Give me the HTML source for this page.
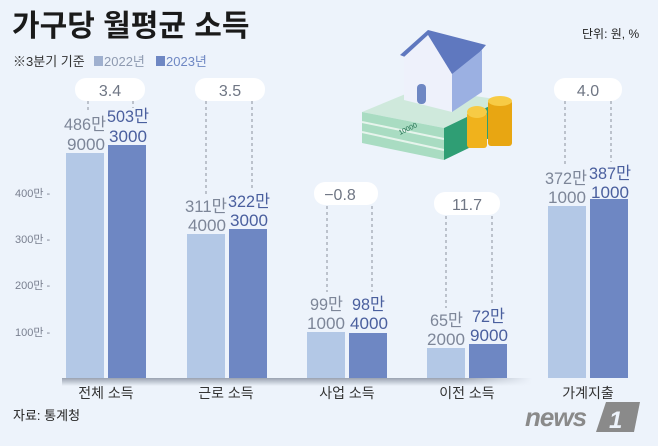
<!DOCTYPE html>
<html><head><meta charset="utf-8"><style>
body{margin:0;background:#edf3fb;}
svg{display:block;font-family:"Liberation Sans","Noto Sans CJK KR",sans-serif;}
</style></head><body>
<svg width="658" height="446" viewBox="0 0 658 446" xmlns="http://www.w3.org/2000/svg">
<defs>
<linearGradient id="sh" x1="0" y1="0" x2="0" y2="1"><stop offset="0" stop-color="#9aa2b0"/><stop offset="1" stop-color="#edf3fb"/></linearGradient>
<linearGradient id="shh" x1="0" y1="0" x2="1" y2="0"><stop offset="0" stop-color="#edf3fb" stop-opacity="0"/><stop offset="0.85" stop-color="#edf3fb" stop-opacity="0"/><stop offset="1" stop-color="#edf3fb" stop-opacity="1"/></linearGradient>
</defs>
<rect width="658" height="446" fill="#edf3fb"/>
<text x="12" y="36" font-size="30" font-weight="bold" fill="#1a1a1a">가구당 월평균 소득</text>
<text x="582" y="38" font-size="12" fill="#222">단위: 원, %</text>
<text x="13" y="66" font-size="13" fill="#333">※3분기 기준</text>
<rect x="94" y="56" width="9" height="10" fill="#9fb0cf"/><text x="104" y="66" font-size="13" fill="#8e9ab0">2022년</text>
<rect x="156" y="56" width="9" height="10" fill="#6e87c3"/><text x="166" y="66" font-size="13" fill="#6e87c3">2023년</text>

<!-- illustration -->
<g>
<polygon points="362,112 420,88 502,100 444,128" fill="#cfe9dc"/>
<polygon points="362,112 444,128 444,160 362,143" fill="#a9dcc2"/>
<line x1="362" y1="122" x2="444" y2="139" stroke="#e6f4ec" stroke-width="2"/>
<line x1="362" y1="132" x2="444" y2="150" stroke="#e6f4ec" stroke-width="2"/>
<polygon points="444,128 502,100 502,132 444,160" fill="#2f9e74"/>
<text x="400" y="135" font-size="7" fill="#1d6b4c" transform="rotate(-25 400 135)">10000</text>
<polygon points="400,55 428,30 486,45 457,78" fill="#5f78bf"/>
<polygon points="404,57 428,35 452,74 452,112 404,100" fill="#eef1fb"/>
<polygon points="452,74 482,50 482,92 452,112" fill="#9bb0e2"/>
<rect x="417" y="84" width="9" height="20" rx="4" fill="#6e87c3"/>
<rect x="467" y="112" width="20" height="36" rx="3" fill="#f0b21c"/>
<ellipse cx="477" cy="112" rx="10" ry="6" fill="#f7cb45"/>
<rect x="488" y="100" width="24" height="46" rx="3" fill="#e8a612"/>
<ellipse cx="500" cy="101" rx="12" ry="5" fill="#f7cb45"/>
</g>

<g font-size="11" fill="#7a8090">
<text x="15" y="197">400만 -</text>
<text x="15" y="243">300만 -</text>
<text x="15" y="289">200만 -</text>
<text x="15" y="336">100만 -</text>
</g>

<rect x="62" y="378" width="470" height="8" fill="url(#sh)"/>
<rect x="62" y="378" width="470" height="8" fill="url(#shh)"/>

<g fill="#b3c8e6">
<rect x="66" y="153" width="38" height="225"/>
<rect x="187" y="234" width="38" height="144"/>
<rect x="307" y="332" width="38" height="46"/>
<rect x="427" y="348" width="38" height="30"/>
<rect x="548" y="206" width="38" height="172"/>
</g>
<g fill="#6e87c3">
<rect x="108" y="145" width="38" height="233"/>
<rect x="229" y="229" width="38" height="149"/>
<rect x="349" y="333" width="38" height="45"/>
<rect x="469" y="344" width="38" height="34"/>
<rect x="590" y="199" width="38" height="179"/>
</g>

<g stroke="#8a909c" stroke-width="1" stroke-dasharray="3,3">
<line x1="88" y1="101" x2="88" y2="112"/><line x1="133" y1="101" x2="133" y2="108"/>
<line x1="206" y1="101" x2="206" y2="194"/><line x1="252" y1="101" x2="252" y2="190"/>
<line x1="327" y1="206" x2="327" y2="292"/><line x1="372" y1="206" x2="372" y2="292"/>
<line x1="446" y1="216" x2="446" y2="308"/><line x1="492" y1="216" x2="492" y2="304"/>
<line x1="565" y1="101" x2="565" y2="166"/><line x1="611" y1="101" x2="611" y2="162"/>
</g>

<g fill="#ffffff">
<rect x="75" y="78" width="70" height="23" rx="11"/>
<rect x="195" y="78" width="70" height="23" rx="11"/>
<rect x="314" y="182" width="64" height="23" rx="11"/>
<rect x="434" y="192" width="66" height="23" rx="11"/>
<rect x="554" y="78" width="68" height="23" rx="11"/>
</g>
<g font-size="16" fill="#6f7684" text-anchor="middle">
<text x="110" y="96">3.4</text>
<text x="230" y="96">3.5</text>
<text x="340" y="200">−0.8</text>
<text x="467" y="210">11.7</text>
<text x="588" y="96">4.0</text>
</g>

<g font-size="17" lengthAdjust="spacingAndGlyphs">
<g fill="#7d8698">
<text x="64" y="130" textLength="42" lengthAdjust="spacingAndGlyphs">486만</text><text x="67" y="150" textLength="38" lengthAdjust="spacingAndGlyphs">9000</text>
<text x="185" y="212" textLength="42" lengthAdjust="spacingAndGlyphs">311만</text><text x="188" y="231" textLength="38" lengthAdjust="spacingAndGlyphs">4000</text>
<text x="310" y="310" textLength="33" lengthAdjust="spacingAndGlyphs">99만</text><text x="307" y="329" textLength="38" lengthAdjust="spacingAndGlyphs">1000</text>
<text x="430" y="326" textLength="33" lengthAdjust="spacingAndGlyphs">65만</text><text x="427" y="345" textLength="38" lengthAdjust="spacingAndGlyphs">2000</text>
<text x="545" y="184" textLength="42" lengthAdjust="spacingAndGlyphs">372만</text><text x="548" y="203" textLength="38" lengthAdjust="spacingAndGlyphs">1000</text>
</g>
<g fill="#4a5f9e">
<text x="107" y="122" textLength="42" lengthAdjust="spacingAndGlyphs">503만</text><text x="109" y="142" textLength="38" lengthAdjust="spacingAndGlyphs">3000</text>
<text x="228" y="207" textLength="42" lengthAdjust="spacingAndGlyphs">322만</text><text x="230" y="226" textLength="38" lengthAdjust="spacingAndGlyphs">3000</text>
<text x="352" y="310" textLength="33" lengthAdjust="spacingAndGlyphs">98만</text><text x="350" y="329" textLength="38" lengthAdjust="spacingAndGlyphs">4000</text>
<text x="472" y="322" textLength="33" lengthAdjust="spacingAndGlyphs">72만</text><text x="470" y="341" textLength="38" lengthAdjust="spacingAndGlyphs">9000</text>
<text x="589" y="179" textLength="42" lengthAdjust="spacingAndGlyphs">387만</text><text x="591" y="198" textLength="38" lengthAdjust="spacingAndGlyphs">1000</text>
</g>
</g>

<g font-size="14" fill="#333" text-anchor="middle">
<text x="106" y="398">전체 소득</text>
<text x="226" y="398">근로 소득</text>
<text x="347" y="398">사업 소득</text>
<text x="467" y="398">이전 소득</text>
<text x="588" y="398">가계지출</text>
</g>
<text x="13" y="420" font-size="13" fill="#222">자료: 통계청</text>

<text x="525" y="426" font-size="26" font-weight="bold" font-style="italic" fill="#8a8a8a" letter-spacing="-1">news</text>
<polygon points="606,402 640,402 634,432 596,432" fill="#8a8a8a"/>
<text x="609" y="428" font-size="24" font-weight="bold" font-style="italic" fill="#edf3fb">1</text>
</svg>
</body></html>
